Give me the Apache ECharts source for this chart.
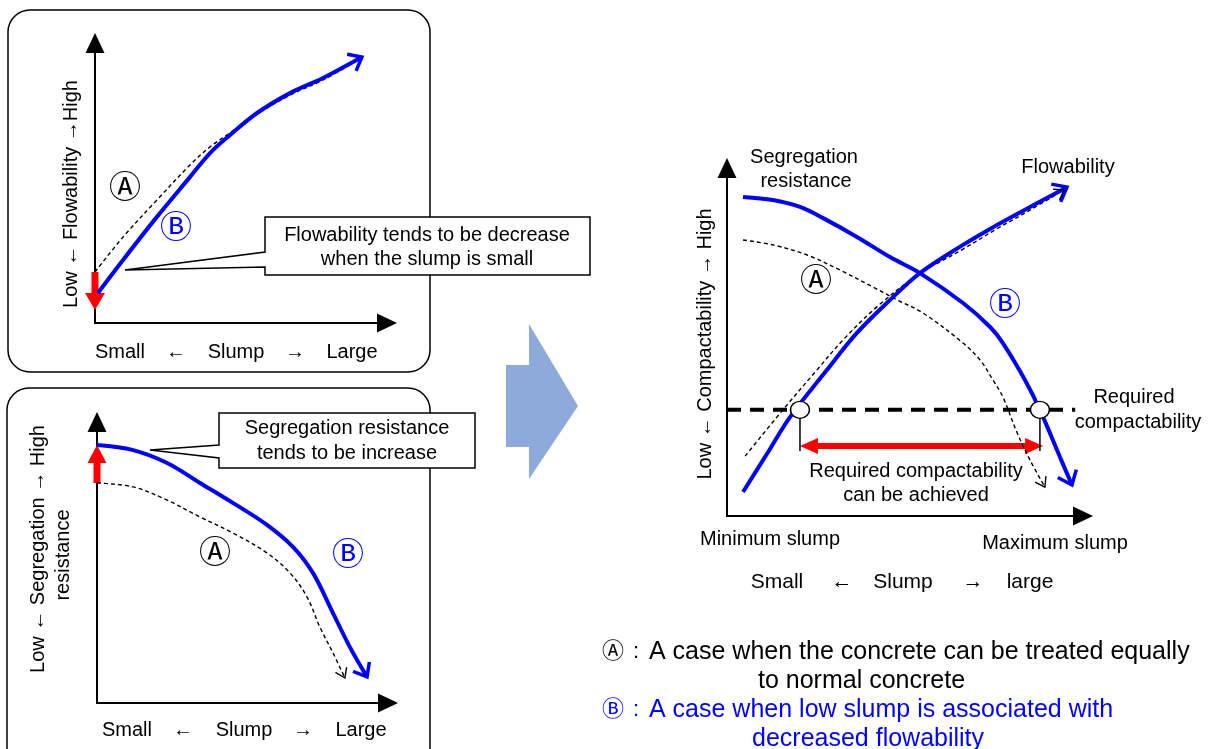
<!DOCTYPE html>
<html><head><meta charset="utf-8">
<script src="https://cdn.jsdelivr.net/npm/echarts@6/dist/echarts.min.js"></script>
<style>html,body{margin:0;padding:0;background:#fff}#c{width:1213px;height:749px}</style>
</head><body><div id="c"></div>
<script>
// ---------- DATA (chart units: 0..100 along each axis) ----------
// Panel 1: flowability vs slump
const p1FlowB = [[1.0,10.7],[9.6,22.5],[21.2,37.9],[32.5,52.1],[39.4,60.7],[46.2,67.1],[55.5,75.0],[66.8,82.1],[78.1,87.5],[91.4,95.0]];
const p1FlowA = [[0,18.2],[9.6,30.7],[21.2,43.9],[32.5,56.4],[39.4,62.9],[46.2,67.9],[55.5,74.6],[66.8,81.4],[78.1,86.8],[90.8,94.3]];
const p1Drop = [[0,18.2],[0,4.6]];
// Panel 2: segregation resistance vs slump
const p2SegB = [[0,91.8],[12.4,90.0],[24.1,85.4],[35.4,78.3],[46.7,71.2],[58.4,63.4],[67.4,55.5],[74.2,46.3],[81.1,32.0],[86.9,19.9],[92.8,9.3]];
const p2SegA = [[0,78.3],[12.4,76.9],[24.1,72.2],[35.4,66.2],[46.7,60.5],[58.4,53.4],[66.3,46.3],[72.2,37.7],[76.6,27.0],[81.1,17.8],[85.2,8.9]];
const p2Rise = [[0,78.3],[0,91.8]];
// Panel 3: compactability
const flowB = [[4.5,6.9],[11.2,17.8],[17.7,28.4],[28.1,42.0],[36.5,52.6],[45.8,62.1],[54.2,69.8],[66.3,77.9],[75.8,83.6],[85.1,88.8],[95.5,94.5]];
const flowA = [[5.1,17.2],[15.7,30.5],[25.3,42.0],[32.6,50.6],[42.1,60.1],[54.2,69.8],[59.8,73.0],[66.3,76.7],[75.8,82.5],[85.1,87.9],[94.7,93.7]];
const segB = [[4.5,91.7],[12.9,90.8],[20.5,88.8],[27.0,85.6],[36.5,80.2],[45.8,74.4],[54.2,69.8],[66.3,61.2],[73.9,54.3],[77.5,49.7],[83.7,39.1],[87.9,30.5],[93.5,17.0],[96.9,8.9]];
const segA = [[4.5,79.3],[12.9,77.9],[22.5,75.0],[31.7,70.7],[41.0,65.8],[47.8,62.1],[55.1,58.3],[66.3,49.7],[71.1,44.8],[74.7,39.1],[77.5,34.2],[81.5,23.9],[85.1,16.1],[89.3,8.3]];
const requiredLevel = 30.5;
const requiredExtent = [0, 97.8];
const slumpLimits = [20.5, 87.9];
const leaderBottom = 18.7;
const achievableRange = [[20.5,20.1],[88.8,20.1]];

// ---------- TEXT ----------
const xLabelWords = ['Small', '\u2190', 'Slump', '\u2192', 'Large'];
const xLabelWords3 = ['Small', '\u2190', 'Slump', '\u2192', 'large'];

const BLUE = '#0000ff', RED = '#ff0000';
const FONT = '"Liberation Sans", Arial, sans-serif';
const CIRC = '"DejaVu Sans", "Noto Sans CJK JP", sans-serif';

const chart = echarts.init(document.getElementById('c'), null, {renderer: 'canvas'});

function axisPair(gi) {
  const line = {show: true, symbol: ['none', 'triangle'], symbolSize: [19, 20], lineStyle: {color: '#000', width: 2}};
  return {gridIndex: gi, type: 'value', min: 0, max: 100, axisLine: line,
    axisTick: {show: false}, axisLabel: {show: false}, splitLine: {show: false}};
}
const xAxes = [0,1,2].map(axisPair);
const yAxes = [0,1,2].map(axisPair);

function lineSeries(gi, data, kind) {
  return {type: 'line', xAxisIndex: gi, yAxisIndex: gi, data: data, smooth: 0.35,
    showSymbol: false, symbol: 'none', silent: true, z: kind === 'blue' ? 4 : 3,
    lineStyle: kind === 'blue' ? {color: BLUE, width: 4, cap: 'butt'} : {color: '#000', width: 1.4, type: [4, 3]}};
}

const series = [
  lineSeries(0, p1FlowA, 'dash'),
  lineSeries(0, p1FlowB, 'blue'),
  lineSeries(1, p2SegA, 'dash'),
  lineSeries(1, p2SegB, 'blue'),
  lineSeries(2, flowA, 'dash'),
  lineSeries(2, segA, 'dash'),
  lineSeries(2, flowB, 'blue'),
  lineSeries(2, segB, 'blue'),
  {type: 'line', xAxisIndex: 2, yAxisIndex: 2, silent: true, showSymbol: false, symbol: 'none', z: 5,
   data: [[requiredExtent[0], requiredLevel], [requiredExtent[1], requiredLevel]],
   lineStyle: {color: '#000', width: 4, type: [14, 9]}},
  ...slumpLimits.map(x => ({type: 'line', xAxisIndex: 2, yAxisIndex: 2, silent: true, showSymbol: false, symbol: 'none', z: 7,
   data: [[x, requiredLevel], [x, leaderBottom]], lineStyle: {color: '#000', width: 1.5}})),
  {type: 'scatter', xAxisIndex: 2, yAxisIndex: 2, silent: true, z: 8,
   data: slumpLimits.map(x => [x, requiredLevel]), symbol: 'circle', symbolSize: [19, 17],
   itemStyle: {color: '#fff', borderColor: '#000', borderWidth: 1.5, opacity: 1}}
];

chart.setOption({
  animation: false,
  backgroundColor: '#fff',
  grid: [
    {left: 95, top: 43, width: 292, height: 280, outerBoundsMode: 'none'},
    {left: 97, top: 422, width: 291, height: 281, outerBoundsMode: 'none'},
    {left: 727, top: 168, width: 356, height: 348, outerBoundsMode: 'none'}
  ],
  xAxis: xAxes,
  yAxis: yAxes,
  series: series
});

// ---------- helpers using the library's scales ----------
function px(gi, p) { return chart.convertToPixel({gridIndex: gi}, p); }
function chevron(gi, pts, len, half, color, width) {
  const a = px(gi, pts[pts.length - 2]), b = px(gi, pts[pts.length - 1]);
  const ang = Math.atan2(b[1] - a[1], b[0] - a[0]);
  const p1 = [b[0] - len * Math.cos(ang - half), b[1] - len * Math.sin(ang - half)];
  const p2 = [b[0] - len * Math.cos(ang + half), b[1] - len * Math.sin(ang + half)];
  return {type: 'polyline', z: 20, shape: {points: [p1, b, p2]},
    style: {stroke: color, lineWidth: width, fill: null, lineJoin: 'miter', lineCap: 'butt'}};
}
function solidArrow(gi, pts, headLen, headW, shaftW, both) {
  const a = px(gi, pts[0]), b = px(gi, pts[1]);
  const L = Math.hypot(b[0] - a[0], b[1] - a[1]);
  const ux = (b[0] - a[0]) / L, uy = (b[1] - a[1]) / L, nx = -uy, ny = ux;
  const P = (s, o) => [a[0] + ux * s + nx * o, a[1] + uy * s + ny * o];
  const sw = shaftW / 2, hw = headW / 2;
  let pts2;
  if (both) {
    pts2 = [P(0, 0), P(headLen, hw), P(headLen, sw), P(L - headLen, sw), P(L - headLen, hw), P(L, 0),
            P(L - headLen, -hw), P(L - headLen, -sw), P(headLen, -sw), P(headLen, -hw)];
  } else {
    pts2 = [P(0, sw), P(L - headLen, sw), P(L - headLen, hw), P(L, 0), P(L - headLen, -hw), P(L - headLen, -sw), P(0, -sw)];
  }
  return {type: 'polygon', z: 1, shape: {points: pts2}, style: {fill: RED, stroke: null}};
}
function txt(x, y, text, size, opts) {
  opts = opts || {};
  return {type: 'text', x: x, y: y, z: 30, rotation: opts.rot || 0,
    style: {text: text, x: 0, y: 0, fill: opts.color || '#000',
      font: (size) + 'px ' + (opts.family || FONT),
      align: opts.align || 'center', textAlign: opts.align || 'center',
      verticalAlign: 'middle', textVerticalAlign: 'middle'}};
}
function row(xs, y, words, size) { return words.map((w, i) => txt(xs[i], y, w, size)); }

const R = Math.PI / 2;
const graphics = [
  // panel frames
  {type: 'rect', z: 0, shape: {x: 8, y: 10, width: 422, height: 362, r: 22}, style: {fill: null, stroke: '#000', lineWidth: 1.5}},
  {type: 'rect', z: 0, shape: {x: 7, y: 388, width: 423, height: 385, r: 22}, style: {fill: null, stroke: '#000', lineWidth: 1.5}},
  // big transition arrow
  {type: 'polygon', z: 0, shape: {points: [[506,365],[529,365],[529,324],[578,406],[529,479],[529,447],[506,447]]}, style: {fill: '#8eaadb', stroke: null}},
  // callouts
  {type: 'polygon', z: 15, shape: {points: [[265,217],[590,217],[590,275],[265,275],[265,267],[125,270],[265,252]]}, style: {fill: '#fff', stroke: '#000', lineWidth: 1.5}},
  {type: 'polygon', z: 15, shape: {points: [[219,413],[475,413],[475,468],[219,468],[219,458],[150,450],[219,445]]}, style: {fill: '#fff', stroke: '#000', lineWidth: 1.5}},
  txt(427, 235, 'Flowability tends to be decrease', 20),
  txt(427, 259, 'when the slump is small', 20),
  txt(347, 428, 'Segregation resistance', 20),
  txt(347, 453, 'tends to be increase', 20),
  // red arrows
  solidArrow(0, p1Drop, 17, 20, 7, false),
  solidArrow(1, p2Rise, 18, 19, 7, false),
  solidArrow(2, achievableRange, 18, 16, 6, true),
  // arrowheads on curves
  chevron(0, p1FlowB, 15, 0.68, BLUE, 3.5),
  chevron(1, p2SegB, 15, 0.68, BLUE, 3.5),
  chevron(1, p2SegA, 11, 0.6, '#000', 1.4),
  chevron(2, flowB, 16, 0.68, BLUE, 3.5),
  chevron(2, segB, 16, 0.68, BLUE, 3.5),
  chevron(2, flowA, 11, 0.6, '#000', 1.4),
  chevron(2, segA, 11, 0.6, '#000', 1.4),
  // panel 1 labels
  ...row([120, 176, 236, 295, 352], 352, xLabelWords, 20),
  txt(71, 194, 'Low \u2190 Flowability \u2192High', 20, {rot: R}),
  txt(125, 190, '\u24B6', 32, {family: CIRC}),
  txt(176, 230, '\u24B7', 32, {family: CIRC, color: BLUE}),
  // panel 2 labels
  ...row([127, 183, 244, 303, 361], 730, xLabelWords, 20),
  txt(38, 549, 'Low \u2190 Segregation \u2192 High', 20, {rot: R}),
  txt(63, 555, 'resistance', 20, {rot: R}),
  txt(215, 555, '\u24B6', 32, {family: CIRC}),
  txt(348, 557, '\u24B7', 32, {family: CIRC, color: BLUE}),
  // panel 3 labels
  txt(804, 157, 'Segregation', 20),
  txt(806, 181, 'resistance', 20),
  txt(1068, 167, 'Flowability', 20),
  txt(816, 283, '\u24B6', 32, {family: CIRC}),
  txt(1005, 307, '\u24B7', 32, {family: CIRC, color: BLUE}),
  txt(1134, 397, 'Required', 20),
  txt(1138, 422, 'compactability', 20),
  txt(916, 471, 'Required compactability', 20),
  txt(916, 495, 'can be achieved', 20),
  txt(770, 539, 'Minimum slump', 20),
  txt(1055, 543, 'Maximum slump', 20),
  ...row([777, 842, 903, 973, 1030], 582, xLabelWords3, 21),
  txt(705, 344, 'Low \u2190 Compactability \u2192 High', 20, {rot: R}),
  // explanation
  txt(613, 652, '\u24B6', 22, {family: CIRC}),
  txt(636, 652, ':', 22),
  txt(649, 652, 'A case when the concrete can be treated equally', 25, {align: 'left'}),
  txt(758, 681, 'to normal concrete', 25, {align: 'left'}),
  txt(613, 710, '\u24B7', 22, {family: CIRC, color: BLUE}),
  txt(636, 710, ':', 22, {color: BLUE}),
  txt(649, 710, 'A case when low slump is associated with', 25, {align: 'left', color: BLUE}),
  txt(752, 739, 'decreased flowability', 25, {align: 'left', color: BLUE})
];
chart.setOption({graphic: graphics});
</script>
</body></html>
